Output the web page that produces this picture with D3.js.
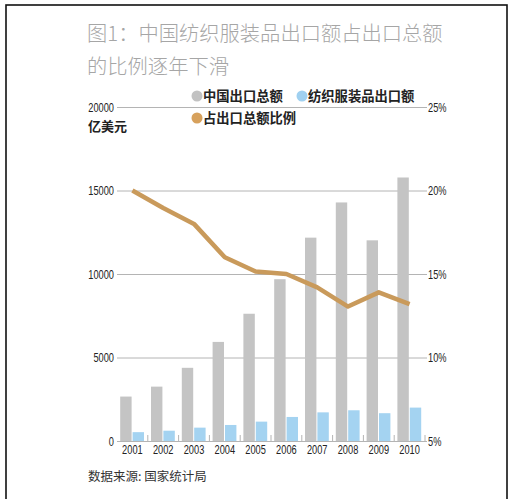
<!DOCTYPE html>
<html>
<head>
<meta charset="utf-8">
<script src="https://cdn.jsdelivr.net/npm/d3@7"></script>
<style>
  body { margin: 0; background: #fff; }
  svg { display: block; }
</style>
</head>
<body>
<svg id="chart"></svg>
<script>
const years = ["2001", "2002", "2003", "2004", "2005", "2006", "2007", "2008", "2009", "2010"];
const totalExport = [2661, 3256, 4382, 5933, 7620, 9689, 12177, 14285, 12016, 15779];
const textileExport = [530, 617, 800, 960, 1160, 1440, 1715, 1840, 1665, 2000];
const shareRatio = [20.0, 18.95, 18.0, 16.0, 15.15, 15.0, 14.2, 13.05, 13.9, 13.2];
const leftTicks = [0, 5000, 10000, 15000, 20000];
const rightTicks = [5, 10, 15, 20, 25];

const width = 517;
const height = 499;
const margin = { left: 117, right: 92, top: 107, bottom: 58 };

const cjk = "'Noto Sans CJK SC', 'Noto Sans', sans-serif";
const num = "'Liberation Sans', Arial, sans-serif";
const squeeze = 0.74; // condensed look for the numbers

const svg = d3.select("#chart")
    .attr("width", width)
    .attr("height", height);

// frame
svg.append("rect")
    .attr("x", 6).attr("y", 5)
    .attr("width", 501).attr("height", 520)
    .attr("fill", "none")
    .attr("stroke", "#111")
    .attr("stroke-width", 1.6);

const x = d3.scaleBand()
    .domain(years)
    .range([margin.left, width - margin.right]);

const xInner = d3.scaleBand()
    .domain(["total", "textile"])
    .range([3.2, x.bandwidth() - 3.8])
    .paddingInner(0.08);

const yLeft = d3.scaleLinear()
    .domain([0, 20000])
    .range([height - margin.bottom, margin.top]);

const yRight = d3.scaleLinear()
    .domain([5, 25])
    .range([height - margin.bottom, margin.top]);

// title
const title = svg.append("text")
    .attr("font-family", cjk)
    .attr("font-weight", 300)
    .attr("font-size", 20.3)
    .attr("fill", "#a6a6a6");
title.append("tspan").attr("x", 87).attr("y", 41).text("图1：中国纺织服装品出口额占出口总额");
title.append("tspan").attr("x", 87).attr("y", 74).text("的比例逐年下滑");

// grid lines
svg.append("g")
    .selectAll("line")
    .data(leftTicks.slice(1))
    .join("line")
    .attr("x1", margin.left)
    .attr("x2", width - margin.right + 2)
    .attr("y1", d => yLeft(d) + 0.5)
    .attr("y2", d => yLeft(d) + 0.5)
    .attr("stroke", "#b4b4b4")
    .attr("stroke-width", 1);

// bars
const groups = svg.append("g")
    .selectAll("g")
    .data(years)
    .join("g")
    .attr("transform", d => `translate(${x(d)},0)`);

groups.append("rect")
    .attr("x", xInner("total"))
    .attr("y", (d, i) => yLeft(totalExport[i]))
    .attr("width", xInner.bandwidth())
    .attr("height", (d, i) => yLeft(0) - yLeft(totalExport[i]))
    .attr("fill", "#c4c4c4");

groups.append("rect")
    .attr("x", xInner("textile"))
    .attr("y", (d, i) => yLeft(textileExport[i]))
    .attr("width", xInner.bandwidth())
    .attr("height", (d, i) => yLeft(0) - yLeft(textileExport[i]))
    .attr("fill", "#a4d3f1");

// baseline and small separators
svg.append("line")
    .attr("x1", margin.left).attr("x2", width - margin.right + 2)
    .attr("y1", yLeft(0) + 0.5).attr("y2", yLeft(0) + 0.5)
    .attr("stroke", "#b4b4b4");

svg.append("g")
    .selectAll("line")
    .data(years.slice(1).map(d => x(d)).concat([x.range()[1]]))
    .join("line")
    .attr("x1", d => d).attr("x2", d => d)
    .attr("y1", yLeft(0)).attr("y2", yLeft(0) - 6)
    .attr("stroke", "#b4b4b4");

// ratio line
const line = d3.line()
    .x((d, i) => x(years[i]) + x.bandwidth() / 2)
    .y(d => yRight(d));

svg.append("path")
    .datum(shareRatio)
    .attr("d", line)
    .attr("fill", "none")
    .attr("stroke", "#c99a5b")
    .attr("stroke-width", 4.5)
    .attr("stroke-linejoin", "round");

// left axis labels
svg.append("g")
    .selectAll("text")
    .data(leftTicks)
    .join("text")
    .attr("transform", d => `translate(${margin.left - 3},${yLeft(d) + 4.5}) scale(${squeeze},1)`)
    .attr("text-anchor", "end")
    .attr("font-family", num)
    .attr("font-size", 12.5)
    .attr("fill", "#222")
    .text(d => d);

// right axis labels
svg.append("g")
    .selectAll("text")
    .data(rightTicks)
    .join("text")
    .attr("transform", d => `translate(${width - margin.right + 3},${yRight(d) + 4.5}) scale(${squeeze},1)`)
    .attr("font-family", num)
    .attr("font-size", 12.5)
    .attr("fill", "#222")
    .text(d => d + "%");

// year labels
svg.append("g")
    .selectAll("text")
    .data(years)
    .join("text")
    .attr("transform", d => `translate(${x(d) + x.bandwidth() / 2},${yLeft(0) + 12.5}) scale(${squeeze},1)`)
    .attr("text-anchor", "middle")
    .attr("font-family", num)
    .attr("font-size", 12.5)
    .attr("fill", "#222")
    .text(d => d);

// unit
svg.append("text")
    .attr("x", 88).attr("y", 131)
    .attr("font-family", cjk)
    .attr("font-weight", 700)
    .attr("font-size", 13)
    .attr("fill", "#222")
    .text("亿美元");

// legend
const legendItems = [
    { label: "中国出口总额", color: "#c2c2c2", cx: 197, cy: 96 },
    { label: "纺织服装品出口额", color: "#9fd0f0", cx: 302, cy: 96 },
    { label: "占出口总额比例", color: "#d7a15c", cx: 197, cy: 118 }
];

const legend = svg.append("g")
    .selectAll("g")
    .data(legendItems)
    .join("g");

legend.append("circle")
    .attr("cx", d => d.cx)
    .attr("cy", d => d.cy)
    .attr("r", 5.5)
    .attr("fill", d => d.color);

legend.append("text")
    .attr("x", d => d.cx + 6)
    .attr("y", d => d.cy + 5)
    .attr("font-family", cjk)
    .attr("font-weight", 700)
    .attr("font-size", 13.3)
    .attr("fill", "#222")
    .text(d => d.label);

// source
svg.append("text")
    .attr("x", 88).attr("y", 481)
    .attr("font-family", cjk)
    .attr("font-size", 12.5)
    .attr("fill", "#333")
    .text("数据来源: 国家统计局");
</script>
</body>
</html>
